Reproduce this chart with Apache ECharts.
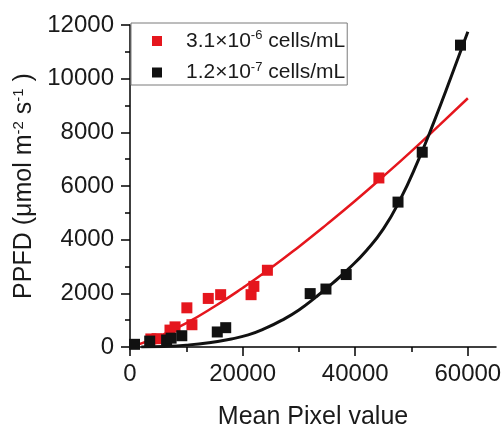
<!DOCTYPE html>
<html>
<head>
<meta charset="utf-8">
<script src="https://cdn.jsdelivr.net/npm/echarts@6/dist/echarts.min.js"></script>
<style>html,body{margin:0;padding:0;background:#fff;}#c{width:503px;height:425px;}</style>
</head>
<body>
<div id="c"></div>
<script>
// ---- data ----
var redX = [3700, 4800, 7100, 8000, 10100, 11000, 13900, 16100, 21500, 22000, 24400, 44200];
var redY = [300, 310, 630, 750, 1460, 830, 1810, 1950, 1950, 2260, 2860, 6300];
var blackX = [800, 3500, 6500, 7300, 9200, 15500, 17000, 32000, 34800, 38400, 47600, 51900, 58700];
var blackY = [100, 220, 260, 330, 420, 560, 720, 1990, 2160, 2700, 5400, 7260, 11250];
// fitted curves as drawn in the picture
var redFitX = [1000, 5000, 10000, 15000, 20000, 25000, 30000, 35000, 40000, 45000, 50000, 55000, 60000];
var redFitY = [60, 380, 890, 1510, 2200, 2940, 3740, 4580, 5450, 6360, 7300, 8280, 9270];
var blackFitX = [2000, 6000, 10000, 14000, 18000, 21000, 24000, 27000, 30000, 33000, 36000, 39000, 42000, 45000, 48000, 51000, 54000, 57000, 60000];
var blackFitY = [0, 20, 70, 160, 300, 450, 690, 1000, 1380, 1860, 2380, 2950, 3600, 4400, 5500, 6860, 8400, 10050, 11750];
var xLabelValues = [0, 20000, 40000, 60000];
var xMinorTickValues = [10000, 30000, 50000];
var legendNames = ['red', 'black'];

function zip(a, b) { return a.map(function (v, i) { return [v, b[i]]; }); }

var FONT = '"Liberation Sans", Arial, sans-serif';
var TXT = '#1a1a1a';
var RED = '#e5161d';
var BLK = '#111111';

var chart = echarts.init(document.getElementById('c'), null, {renderer: 'canvas'});
var supRich = {
  t: {fontSize: 21, fontFamily: FONT, color: TXT, lineHeight: 24},
  s: {fontSize: 13, fontFamily: FONT, color: TXT, lineHeight: 24, verticalAlign: 'top', padding: [0, 0, 9, 0]}
};
function plain(v) { return String(v); }
chart.setOption({
  animation: false,
  grid: {left: 130, top: 25, right: 7, bottom: 78, containLabel: false, outerBoundsMode: 'none'},
  legend: {
    data: legendNames,
    orient: 'vertical',
    left: 131, top: 23,
    itemWidth: 10, itemHeight: 10, itemGap: 9,
    padding: [6, 2, 2, 21],
    borderColor: '#7a7a7a', borderWidth: 1,
    formatter: function (n) {
      return n === 'red' ? '{t|3.1×10}{s|-6}{t| cells/mL}' : '{t|1.2×10}{s|-7}{t| cells/mL}';
    },
    textStyle: {padding: [0, 0, 0, 19], rich: supRich}
  },
  xAxis: [{
    type: 'value', min: 0, max: 65000, interval: 20000,
    name: 'Mean Pixel value', nameLocation: 'middle', nameGap: 58,
    nameTextStyle: {fontSize: 25, fontFamily: FONT, color: TXT},
    axisLine: {show: true, lineStyle: {color: '#000', width: 1.5}},
    axisTick: {show: true, length: 9, inside: false, customValues: xLabelValues, lineStyle: {color: '#000', width: 1.5}},
    axisLabel: {fontSize: 24, fontFamily: FONT, color: TXT, margin: 15, customValues: xLabelValues, formatter: plain},
    splitLine: {show: false}
  }, {
    type: 'value', min: 0, max: 65000, interval: 20000, position: 'bottom',
    axisLine: {show: false},
    axisTick: {show: true, length: 5, customValues: xMinorTickValues, lineStyle: {color: '#000', width: 1.5}},
    axisLabel: {show: false},
    splitLine: {show: false}
  }],
  yAxis: {
    type: 'value', min: 0, max: 12000, interval: 2000,
    name: 'PPFD (μmol m{s|-2} s{s|-1} )', nameLocation: 'middle', nameGap: 89, nameRotate: 90,
    nameTextStyle: {fontSize: 25, fontFamily: FONT, color: TXT, rich: {
      s: {fontSize: 15, fontFamily: FONT, color: TXT, verticalAlign: 'top', padding: [0, 0, 11, 0]}
    }},
    axisLine: {show: true, lineStyle: {color: '#000', width: 1.5}},
    axisTick: {show: true, length: 9, lineStyle: {color: '#000', width: 1.5}},
    minorTick: {show: true, splitNumber: 2, length: 5, lineStyle: {color: '#000', width: 1.5}},
    axisLabel: {fontSize: 24, fontFamily: FONT, color: TXT, margin: 16, formatter: plain},
    splitLine: {show: false}, minorSplitLine: {show: false}
  },
  series: [
    {type: 'line', data: zip(redFitX, redFitY), smooth: true, showSymbol: false, lineStyle: {color: RED, width: 2.5}, z: 2, silent: true},
    {type: 'line', data: zip(blackFitX, blackFitY), smooth: true, showSymbol: false, lineStyle: {color: BLK, width: 3}, z: 3, silent: true},
    {name: 'red', type: 'scatter', data: zip(redX, redY), symbol: 'rect', symbolSize: 11, itemStyle: {color: RED, opacity: 1}, z: 4},
    {name: 'black', type: 'scatter', data: zip(blackX, blackY), symbol: 'rect', symbolSize: 11, itemStyle: {color: BLK, opacity: 1}, z: 5}
  ]
});
</script>
</body>
</html>
